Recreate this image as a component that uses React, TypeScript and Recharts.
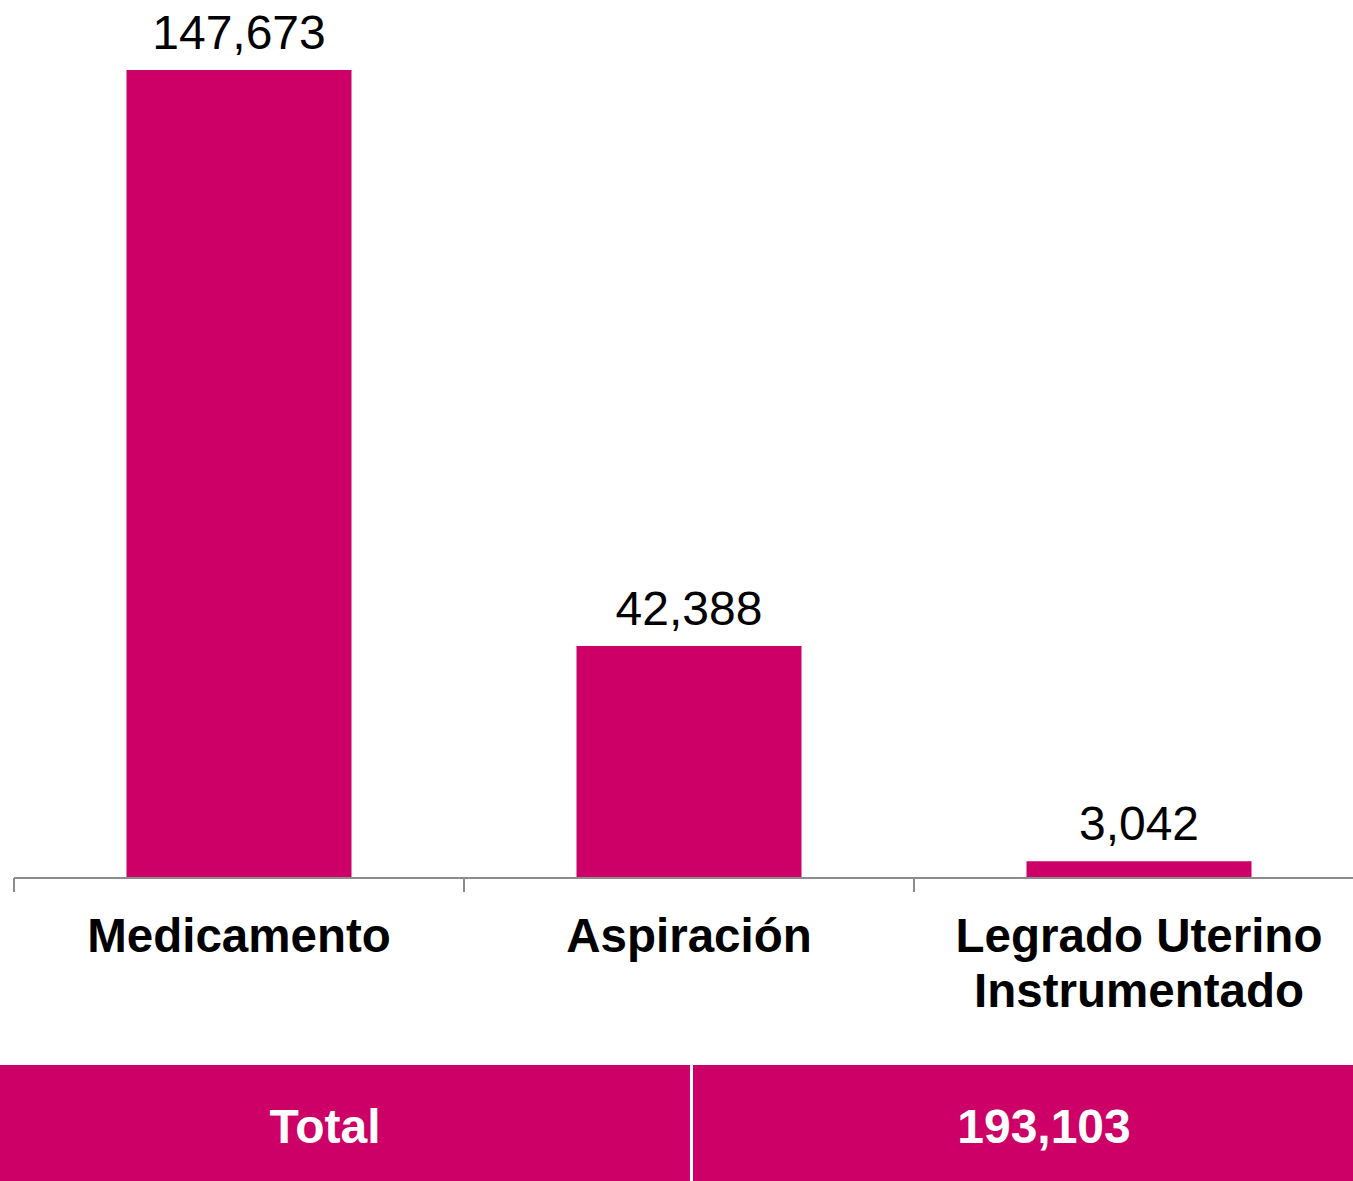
import React from "react";
import { BarChart, Bar, XAxis, YAxis, LabelList } from "recharts";

const categories = ["Medicamento", "Aspiración", "Legrado Uterino\nInstrumentado"];
const values = [147673, 42388, 3042];
const totalLabel = "Total";
const totalValue = 193103;

const data = categories.map((c, i) => ({ name: c, value: values[i] }));

const FONT = "'Liberation Sans', Arial, sans-serif";
const MAGENTA = "#CC0066";
const AXIS = "#8c8c8c";
const HALF_BAND = 225;

const fmt = (v: number) => v.toLocaleString("en-US");

const CatTick = (props: any) => {
  const { x, y, payload } = props;
  const lines = String(payload.value).split("\n");
  const axisY = y - 16;
  return (
    <g>
      <line
        x1={x - HALF_BAND}
        x2={x - HALF_BAND}
        y1={axisY}
        y2={axisY + 14}
        stroke={AXIS}
        strokeWidth={2}
      />
      <text
        x={x}
        y={y}
        textAnchor="middle"
        fontFamily={FONT}
        fontWeight="bold"
        fontSize={47.5}
        fill="#000"
      >
        {lines.map((l, i) => (
          <tspan key={i} x={x} dy={i === 0 ? 58 : 55}>
            {l}
          </tspan>
        ))}
      </text>
    </g>
  );
};

const ValueLabel = (props: any) => {
  const { x, y, width, value } = props;
  return (
    <text
      x={x + width / 2}
      y={y - 21}
      textAnchor="middle"
      fontFamily={FONT}
      fontSize={48}
      fill="#000"
    >
      {fmt(value)}
    </text>
  );
};

const cellStyle: React.CSSProperties = {
  position: "absolute",
  width: 400,
  top: 1069,
  height: 116,
  lineHeight: "116px",
  textAlign: "center",
  color: "#fff",
  fontWeight: "bold",
  fontSize: 48,
};

export default function App() {
  return (
    <div
      style={{
        position: "absolute",
        left: 0,
        top: 0,
        width: 1353,
        height: 1181,
        overflow: "hidden",
        background: "#fff",
        fontFamily: FONT,
      }}
    >
      <BarChart
        width={1364}
        height={1065}
        data={data}
        margin={{ top: 70, right: 0, left: 14, bottom: 0 }}
        barCategoryGap="25%"
      >
        <XAxis
          dataKey="name"
          height={187}
          interval={0}
          tickSize={14}
          tickMargin={2}
          tick={<CatTick />}
          tickLine={false}
          axisLine={{ stroke: AXIS, strokeWidth: 2 }}
        />
        <YAxis hide domain={[0, 147673]} />
        <Bar dataKey="value" fill={MAGENTA} isAnimationActive={false}>
          <LabelList dataKey="value" content={<ValueLabel />} />
        </Bar>
      </BarChart>
      <div
        style={{
          position: "absolute",
          left: 0,
          top: 1065,
          width: 690,
          height: 116,
          background: MAGENTA,
        }}
      />
      <div
        style={{
          position: "absolute",
          left: 693,
          top: 1065,
          width: 660,
          height: 116,
          background: MAGENTA,
        }}
      />
      <div style={{ ...cellStyle, left: 125 }}>{totalLabel}</div>
      <div style={{ ...cellStyle, left: 844 }}>{fmt(totalValue)}</div>
    </div>
  );
}
